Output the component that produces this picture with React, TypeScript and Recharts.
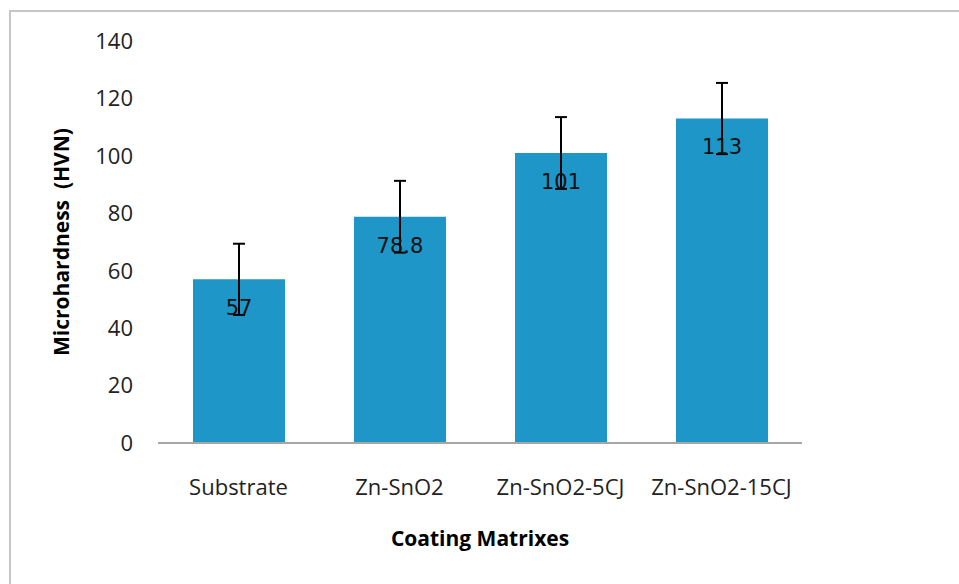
import { Bar, BarChart, ErrorBar, Label, LabelList, XAxis, YAxis } from "recharts";

const categories = ["Substrate", "Zn-SnO2", "Zn-SnO2-5CJ", "Zn-SnO2-15CJ"];
const hardness = [57, 78.8, 101, 113];
const errors = [12.4, 12.5, 12.5, 12.4];
const yTicks = [0, 20, 40, 60, 80, 100, 120, 140];

const data = categories.map((name, i) => ({
  name,
  hardness: hardness[i],
  err: errors[i],
}));

const font = "'Open Sans', sans-serif";

const YTitle = ({ viewBox }: any) => {
  const cx = viewBox.x + 61;
  const cy = viewBox.y + viewBox.height / 2;
  return (
    <text
      x={cx}
      y={cy}
      transform={`rotate(-90, ${cx}, ${cy})`}
      textAnchor="middle"
      dominantBaseline="central"
      fontFamily={font}
      fontWeight="bold"
      fontSize={21}
      fill="#000"
      style={{ whiteSpace: "pre" }}
    >
      {"Microhardness  (HVN)"}
    </text>
  );
};

export default function App() {
  return (
    <div style={{ position: "absolute", left: 0, top: 0, width: 959, height: 584, overflow: "hidden", background: "#fff" }}>
      <div
        style={{
          position: "absolute",
          left: 9,
          top: 10,
          width: 960,
          height: 580,
          borderTop: "2px solid #c6c6c6",
          borderLeft: "2px solid #c6c6c6",
        }}
      />
      <BarChart
        width={959}
        height={584}
        data={data}
        margin={{ top: 41, right: 157, bottom: 31, left: 0 }}
        style={{ position: "absolute", left: 0, top: 0 }}
      >
        <XAxis
          dataKey="name"
          height={110}
          axisLine={{ stroke: "#a6a6a6", strokeWidth: 2 }}
          tickLine={false}
          tickSize={0}
          tickMargin={36}
          tick={{ fill: "#222", fontSize: 22, fontFamily: font }}
          interval={0}
        >
          <Label
            value="Coating Matrixes"
            position="insideBottom"
            offset={7}
            fill="#000"
            fontSize={21}
            fontWeight="bold"
            fontFamily={font}
          />
        </XAxis>
        <YAxis
          width={158}
          domain={[0, 140]}
          ticks={yTicks}
          axisLine={false}
          tickLine={false}
          tickSize={0}
          tickMargin={25}
          tick={{ fill: "#222", fontSize: 22, fontFamily: font }}
          label={<YTitle />}
        />
        <Bar dataKey="hardness" fill="#1e96c8" barSize={92} isAnimationActive={false}>
          <LabelList
            dataKey="hardness"
            position="insideTop"
            offset={21}
            fill="#111"
            fontSize={21}
            fontFamily="'DejaVu Sans', sans-serif"
          />
          <ErrorBar
            dataKey="err"
            direction="y"
            width={6}
            stroke="#000"
            strokeWidth={2}
            isAnimationActive={false}
          />
        </Bar>
      </BarChart>
    </div>
  );
}
